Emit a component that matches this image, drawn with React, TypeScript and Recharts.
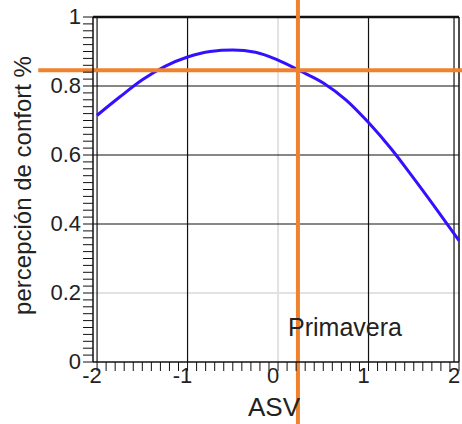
import React from "react";
import {
  ComposedChart,
  Line,
  XAxis,
  YAxis,
  ReferenceLine,
  ReferenceDot,
  Label,
} from "recharts";

// ASV vs perceived comfort (spring)
const asvValues = [-2, -1.75, -1.5, -1.25, -1, -0.75, -0.5, -0.25, 0, 0.25, 0.5, 0.75, 1, 1.25, 1.5, 1.75, 2];
const confortValues = [0.715, 0.768, 0.818, 0.857, 0.884, 0.9, 0.904, 0.898, 0.875, 0.843, 0.809, 0.76, 0.694, 0.618, 0.532, 0.443, 0.352];

const xMajorTicks = [-2, -1, 0, 1, 2];
const yMajorTicks = [0, 0.2, 0.4, 0.6, 0.8, 1];
const xBlackGrid = [-1, 1];
const xGrayGrid = [0];
const yBlackGrid = [0.4, 0.6, 0.8];
const yGrayGrid = [0.2];

const markerAsv = 0.22;
const markerConfort = 0.846;
const seasonLabel = "Primavera";

const data = asvValues.map((x, i) => ({ x, y: confortValues[i] }));

// minor ticks every 0.1 on x and 0.02 on y
const xMinor: number[] = [];
for (let i = -20; i <= 20; i++) xMinor.push(i / 10);
const yMinor: number[] = [];
for (let i = 0; i <= 50; i++) yMinor.push(i / 50);

const isMajor = (v: number, majors: number[]) => majors.some((m) => Math.abs(m - v) < 1e-6);

const FONT = "'Liberation Sans', Arial, sans-serif";
const ORANGE = "#F0822E";

const XTick = (props: any) => {
  const { x, y, payload } = props;
  if (!isMajor(payload.value, xMajorTicks)) return null;
  return (
    <text x={x - 5} y={y + 10} textAnchor="middle" fontSize={22} fontFamily={FONT} fill="#222">
      {String(Math.round(payload.value))}
    </text>
  );
};

const YTick = (props: any) => {
  const { x, y, payload } = props;
  if (!isMajor(payload.value, yMajorTicks)) return null;
  const v = Math.round(payload.value * 10) / 10;
  return (
    <text x={x} y={y} dy={7} textAnchor="end" fontSize={22} fontFamily={FONT} fill="#222">
      {String(v)}
    </text>
  );
};

export default function App() {
  return (
    <div style={{ position: "absolute", left: 0, top: 0, background: "#fff" }}>
      <ComposedChart
        width={462}
        height={424}
        data={data}
        margin={{ top: 17, right: 3, left: 0, bottom: 0 }}
      >
        <XAxis
          dataKey="x"
          type="number"
          domain={[-2.045, 2]}
          ticks={xMinor}
          interval={0}
          tick={<XTick />}
          tickSize={9}
          tickLine={{ stroke: "#111" }}
          axisLine={{ stroke: "#111", strokeWidth: 1.5 }}
          height={62}
        >
          <Label
            content={(p: any) => {
              const vb = p.viewBox;
              return (
                <text
                  x={vb.x + vb.width / 2 - 2}
                  y={vb.y + 54}
                  textAnchor="middle"
                  fontSize={26}
                  fontFamily={FONT}
                  fill="#222"
                >
                  ASV
                </text>
              );
            }}
          />
        </XAxis>
        <YAxis
          type="number"
          domain={[0, 1]}
          ticks={yMinor}
          interval={0}
          tick={<YTick />}
          tickSize={10}
          tickLine={{ stroke: "#111" }}
          axisLine={{ stroke: "#111", strokeWidth: 1.5 }}
          width={93}
        >
          <Label
            content={(p: any) => {
              const vb = p.viewBox;
              const cx = 22;
              const cy = vb.y + vb.height / 2 - 4;
              return (
                <text
                  x={cx}
                  y={cy}
                  transform={`rotate(-90, ${cx}, ${cy})`}
                  textAnchor="middle"
                  dominantBaseline="central"
                  fontSize={24}
                  fontFamily={FONT}
                  fill="#222"
                >
                  percepción de confort %
                </text>
              );
            }}
          />
        </YAxis>

        {xGrayGrid.map((v) => (
          <ReferenceLine key={"xg" + v} x={v} stroke="#e2e2e2" strokeWidth={2} />
        ))}
        {yGrayGrid.map((v) => (
          <ReferenceLine key={"yg" + v} y={v} stroke="#e2e2e2" strokeWidth={2} />
        ))}
        {xBlackGrid.map((v) => (
          <ReferenceLine key={"xb" + v} x={v} stroke="#111" strokeWidth={1.2} />
        ))}
        {yBlackGrid.map((v) => (
          <ReferenceLine key={"yb" + v} y={v} stroke="#111" strokeWidth={1.2} />
        ))}

        {/* frame */}
        <ReferenceLine y={1} stroke="#111" strokeWidth={2.5} />
        <ReferenceLine x={-2} stroke="#111" strokeWidth={1.2} />
        <ReferenceLine x={1.945} stroke="#111" strokeWidth={1.2} />
        <ReferenceLine x={2} stroke="#111" strokeWidth={1.5} />

        <ReferenceDot
          x={0.74}
          y={0.1}
          r={0}
          fill="none"
          stroke="none"
          label={{ value: seasonLabel, position: "center", fontSize: 25, fontFamily: FONT, fill: "#222" }}
        />

        <Line
          type="monotone"
          dataKey="y"
          stroke="#3311ff"
          strokeWidth={3}
          dot={false}
          isAnimationActive={false}
        />

        <ReferenceLine
          segment={[
            { x: markerAsv, y: -0.18 },
            { x: markerAsv, y: 1.05 },
          ]}
          ifOverflow="visible"
          stroke={ORANGE}
          strokeWidth={4}
        />
        <ReferenceLine
          segment={[
            { x: -2.65, y: markerConfort },
            { x: 2.04, y: markerConfort },
          ]}
          ifOverflow="visible"
          stroke={ORANGE}
          strokeWidth={4}
        />
      </ComposedChart>
    </div>
  );
}
